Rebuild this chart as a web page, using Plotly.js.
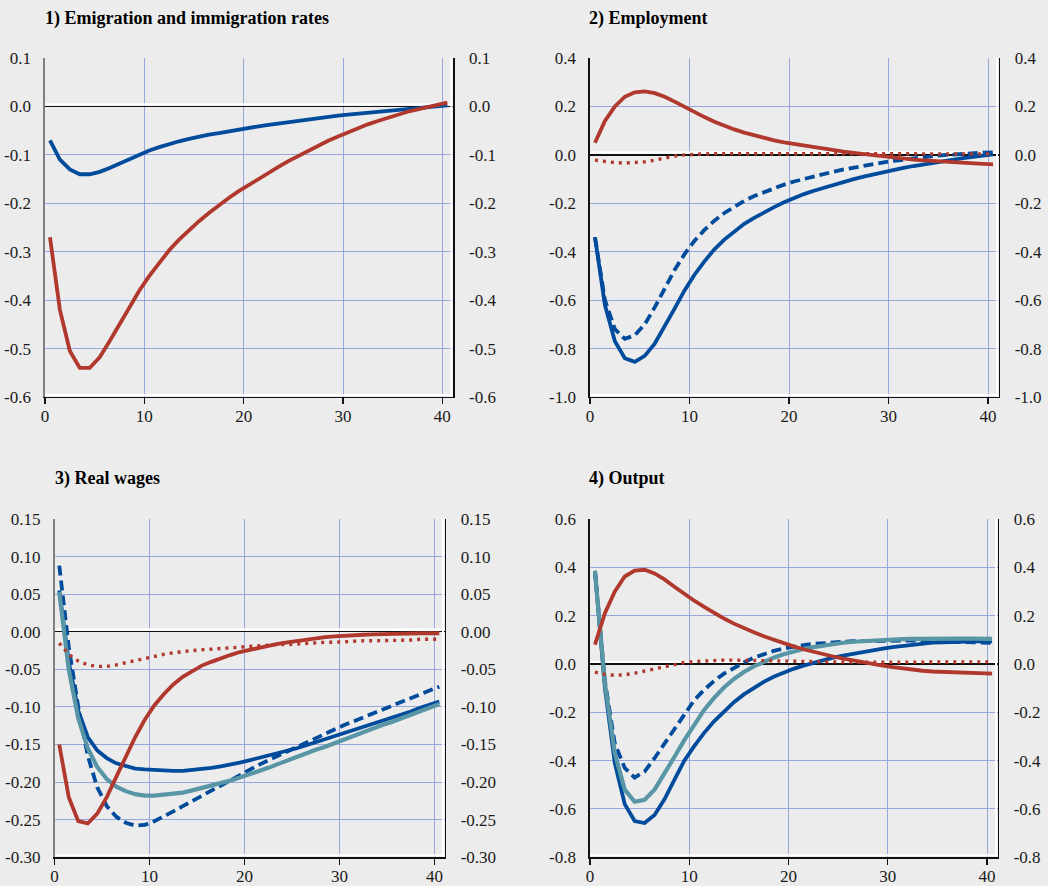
<!DOCTYPE html>
<html><head><meta charset="utf-8">
<script src="https://cdn.plot.ly/plotly-3.0.1.min.js"></script>
<style>html,body{margin:0;padding:0;background:#ececec;}</style>
</head><body><div id="chart" style="width:1048px;height:886px;"></div>
<script>
// ---------- data ----------
const periods = [0.5,1.5,2.5,3.5,4.5,5.5,6.5,7.5,8.5,9.5,10.5,11.5,12.5,13.5,14.5,15.5,16.5,17.5,18.5,19.5,20.5,21.5,22.5,23.5,24.5,25.5,26.5,27.5,28.5,29.5,30.5,31.5,32.5,33.5,34.5,35.5,36.5,37.5,38.5,39.5,40.5];

const panelTitles = ["1) Emigration and immigration rates", "2) Employment", "3) Real wages", "4) Output"];

// Panel 1: emigration / immigration rates
const p1Blue = [-0.07,-0.11,-0.13,-0.14,-0.14,-0.135,-0.127,-0.118,-0.108,-0.099,-0.091,-0.084,-0.077,-0.072,-0.067,-0.062,-0.058,-0.055,-0.051,-0.047,-0.044,-0.041,-0.038,-0.035,-0.032,-0.029,-0.027,-0.024,-0.022,-0.019,-0.017,-0.015,-0.013,-0.011,-0.009,-0.007,-0.005,-0.003,-0.002,0.0,0.002];
const p1Red = [-0.27,-0.42,-0.505,-0.54,-0.54,-0.518,-0.485,-0.45,-0.415,-0.38,-0.35,-0.322,-0.297,-0.275,-0.255,-0.237,-0.22,-0.204,-0.189,-0.175,-0.162,-0.149,-0.137,-0.125,-0.113,-0.102,-0.091,-0.081,-0.071,-0.062,-0.053,-0.045,-0.037,-0.030,-0.023,-0.017,-0.011,-0.006,-0.001,0.004,0.008];

// Panel 2: employment
const p2BlueSolid = [-0.34,-0.62,-0.77,-0.84,-0.855,-0.83,-0.78,-0.71,-0.635,-0.56,-0.495,-0.44,-0.39,-0.35,-0.315,-0.285,-0.26,-0.237,-0.216,-0.196,-0.178,-0.162,-0.148,-0.135,-0.123,-0.111,-0.1,-0.09,-0.08,-0.071,-0.062,-0.054,-0.046,-0.039,-0.032,-0.025,-0.019,-0.013,-0.008,-0.003,0.002];
const p2BlueDash = [-0.34,-0.6,-0.72,-0.76,-0.745,-0.7,-0.63,-0.55,-0.475,-0.41,-0.355,-0.31,-0.272,-0.24,-0.213,-0.19,-0.17,-0.153,-0.137,-0.123,-0.11,-0.099,-0.088,-0.078,-0.069,-0.06,-0.052,-0.045,-0.038,-0.031,-0.025,-0.019,-0.014,-0.009,-0.005,-0.001,0.002,0.005,0.007,0.009,0.01];
const p2RedSolid = [0.05,0.14,0.2,0.24,0.258,0.262,0.255,0.24,0.22,0.198,0.176,0.156,0.137,0.12,0.105,0.092,0.08,0.07,0.06,0.052,0.045,0.038,0.031,0.025,0.019,0.013,0.008,0.003,-0.002,-0.007,-0.011,-0.016,-0.020,-0.023,-0.026,-0.029,-0.031,-0.033,-0.035,-0.037,-0.039];
const p2RedDot = [-0.022,-0.028,-0.032,-0.034,-0.033,-0.029,-0.022,-0.013,-0.005,0.0,0.003,0.004,0.005,0.005,0.005,0.005,0.005,0.005,0.005,0.005,0.005,0.005,0.005,0.005,0.005,0.005,0.005,0.004,0.004,0.004,0.004,0.004,0.004,0.004,0.004,0.004,0.004,0.004,0.004,0.004,0.004];

// Panel 3: real wages
const p3BlueSolid = [0.055,-0.04,-0.105,-0.14,-0.158,-0.168,-0.175,-0.179,-0.182,-0.183,-0.184,-0.185,-0.185,-0.185,-0.184,-0.183,-0.181,-0.179,-0.177,-0.174,-0.171,-0.168,-0.165,-0.162,-0.158,-0.155,-0.151,-0.147,-0.143,-0.139,-0.135,-0.131,-0.127,-0.122,-0.118,-0.114,-0.110,-0.106,-0.101,-0.097,-0.093];
const p3BlueDash = [0.088,-0.02,-0.1,-0.165,-0.207,-0.232,-0.246,-0.254,-0.258,-0.257,-0.252,-0.246,-0.239,-0.232,-0.225,-0.218,-0.211,-0.204,-0.197,-0.19,-0.184,-0.177,-0.171,-0.165,-0.159,-0.153,-0.147,-0.141,-0.135,-0.129,-0.124,-0.119,-0.114,-0.109,-0.104,-0.099,-0.094,-0.089,-0.084,-0.079,-0.073];
const p3Teal = [0.053,-0.05,-0.115,-0.155,-0.18,-0.196,-0.206,-0.212,-0.216,-0.218,-0.218,-0.217,-0.216,-0.214,-0.211,-0.208,-0.205,-0.202,-0.198,-0.194,-0.190,-0.185,-0.181,-0.176,-0.171,-0.167,-0.162,-0.157,-0.153,-0.148,-0.143,-0.139,-0.134,-0.129,-0.124,-0.120,-0.115,-0.110,-0.105,-0.101,-0.096];
const p3RedSolid = [-0.15,-0.22,-0.252,-0.255,-0.242,-0.22,-0.193,-0.166,-0.14,-0.117,-0.098,-0.083,-0.07,-0.06,-0.052,-0.045,-0.04,-0.035,-0.031,-0.027,-0.024,-0.021,-0.018,-0.016,-0.014,-0.012,-0.01,-0.0085,-0.007,-0.006,-0.005,-0.0045,-0.004,-0.0035,-0.003,-0.003,-0.0025,-0.0025,-0.002,-0.002,-0.002];
const p3RedDot = [-0.015,-0.03,-0.039,-0.044,-0.046,-0.046,-0.044,-0.041,-0.038,-0.035,-0.032,-0.030,-0.028,-0.026,-0.025,-0.024,-0.023,-0.022,-0.021,-0.020,-0.019,-0.018,-0.018,-0.017,-0.017,-0.016,-0.015,-0.015,-0.014,-0.014,-0.013,-0.013,-0.012,-0.012,-0.012,-0.011,-0.011,-0.011,-0.010,-0.010,-0.010];

// Panel 4: output
const p4BlueSolid = [0.385,-0.1,-0.41,-0.58,-0.65,-0.658,-0.625,-0.56,-0.48,-0.4,-0.34,-0.285,-0.237,-0.195,-0.158,-0.126,-0.098,-0.074,-0.053,-0.035,-0.02,-0.007,0.005,0.016,0.026,0.035,0.043,0.051,0.058,0.064,0.07,0.075,0.08,0.084,0.088,0.09,0.092,0.093,0.094,0.094,0.094];
const p4BlueDash = [0.385,-0.07,-0.33,-0.43,-0.47,-0.445,-0.39,-0.33,-0.265,-0.205,-0.15,-0.107,-0.07,-0.04,-0.015,0.006,0.026,0.042,0.054,0.064,0.072,0.078,0.083,0.087,0.09,0.092,0.094,0.095,0.096,0.097,0.097,0.097,0.097,0.096,0.095,0.094,0.093,0.091,0.09,0.088,0.087];
const p4Teal = [0.385,-0.08,-0.37,-0.52,-0.57,-0.562,-0.52,-0.455,-0.385,-0.315,-0.25,-0.19,-0.14,-0.097,-0.062,-0.033,-0.01,0.01,0.026,0.04,0.052,0.062,0.07,0.077,0.083,0.088,0.092,0.095,0.098,0.1,0.102,0.103,0.104,0.105,0.105,0.105,0.105,0.105,0.105,0.104,0.104];
const p4RedSolid = [0.08,0.21,0.3,0.362,0.386,0.39,0.375,0.35,0.32,0.29,0.262,0.236,0.211,0.188,0.167,0.148,0.131,0.115,0.1,0.086,0.073,0.061,0.05,0.04,0.031,0.022,0.014,0.007,0.0,-0.007,-0.013,-0.019,-0.024,-0.028,-0.031,-0.033,-0.035,-0.037,-0.038,-0.039,-0.04];
const p4RedDot = [-0.034,-0.043,-0.047,-0.045,-0.038,-0.029,-0.019,-0.009,0.0,0.006,0.01,0.013,0.015,0.016,0.016,0.016,0.015,0.014,0.013,0.012,0.011,0.01,0.009,0.009,0.008,0.008,0.007,0.007,0.007,0.007,0.007,0.007,0.007,0.007,0.008,0.008,0.008,0.008,0.009,0.009,0.009];

// tick values / labels
const xTickVals = [0,10,20,30,40];
const xTickText = ["0","10","20","30","40"];
const p1TickVals = [-0.6,-0.5,-0.4,-0.3,-0.2,-0.1,0,0.1];
const p1TickText = ["-0.6","-0.5","-0.4","-0.3","-0.2","-0.1","0.0","0.1"];
const p2TickVals = [-1.0,-0.8,-0.6,-0.4,-0.2,0,0.2,0.4];
const p2TickText = ["-1.0","-0.8","-0.6","-0.4","-0.2","0.0","0.2","0.4"];
const p3TickVals = [-0.30,-0.25,-0.20,-0.15,-0.10,-0.05,0,0.05,0.10,0.15];
const p3TickText = ["-0.30","-0.25","-0.20","-0.15","-0.10","-0.05","0.00","0.05","0.10","0.15"];
const p4TickVals = [-0.8,-0.6,-0.4,-0.2,0,0.2,0.4,0.6];
const p4TickText = ["-0.8","-0.6","-0.4","-0.2","0.0","0.2","0.4","0.6"];

// ---------- styling ----------
const RED = 'rgb(176,56,45)';
const BLUE = 'rgb(0,75,155)';
const TEAL = 'rgb(88,150,166)';
const GRID = 'rgb(152,166,222)';
const BG = '#ececec';
const FONT = '"Liberation Serif", "Times New Roman", Times, serif';

const styles = {
  blueSolid: {color: BLUE, width: 3.8},
  blueDash: {color: BLUE, width: 3.8, dash: '10px,5px'},
  teal: {color: TEAL, width: 4.2},
  redSolid: {color: RED, width: 3.8},
  redDot: {color: RED, width: 3.4, dash: '3px,5px'}
};

function tr(y, style, n) {
  return {x: periods, y: y, type: 'scatter', mode: 'lines', line: styles[style],
    xaxis: 'x' + (n === 1 ? '' : n), yaxis: 'y' + (n === 1 ? '' : n),
    hoverinfo: 'skip', showlegend: false};
}

const traces = [
  tr(p1Blue, 'blueSolid', 1), tr(p1Red, 'redSolid', 1),
  tr(p2BlueSolid, 'blueSolid', 2), tr(p2BlueDash, 'blueDash', 2), tr(p2RedSolid, 'redSolid', 2), tr(p2RedDot, 'redDot', 2),
  tr(p3BlueSolid, 'blueSolid', 3), tr(p3BlueDash, 'blueDash', 3), tr(p3Teal, 'teal', 3), tr(p3RedSolid, 'redSolid', 3), tr(p3RedDot, 'redDot', 3),
  tr(p4BlueSolid, 'blueSolid', 4), tr(p4BlueDash, 'blueDash', 4), tr(p4Teal, 'teal', 4), tr(p4RedSolid, 'redSolid', 4), tr(p4RedDot, 'redDot', 4)
];
// empty traces to anchor the right-hand axes
for (let i = 5; i <= 8; i++) {
  traces.push({x: [], y: [], type: 'scatter', mode: 'lines', xaxis: 'x' + (i - 4 === 1 ? '' : i - 4), yaxis: 'y' + i, hoverinfo: 'skip', showlegend: false});
}

const W = 1048, H = 886;
const panels = [
  {xd: [45/W, 453.3/W], yd: [1-397/H, 1-58/H], yr: [-0.6, 0.1], tv: p1TickVals, tt: p1TickText, leftLine: '#808080', tx: 43/W, ty: 1-18/H},
  {xd: [590/W, 999/W], yd: [1-397/H, 1-58/H], yr: [-1.0, 0.4], tv: p2TickVals, tt: p2TickText, leftLine: '#111', tx: 586.5/W, ty: 1-18/H},
  {xd: [54.5/W, 445/W], yd: [1-857.3/H, 1-519/H], yr: [-0.30, 0.15], tv: p3TickVals, tt: p3TickText, leftLine: '#808080', tx: 53/W, ty: 1-479/H},
  {xd: [590/W, 998/W], yd: [1-857.3/H, 1-519/H], yr: [-0.8, 0.6], tv: p4TickVals, tt: p4TickText, leftLine: '#111', tx: 586.5/W, ty: 1-479/H}
];
const XR = [0, 41.1];

const layout = {
  width: W, height: H, margin: {l: 0, r: 0, t: 0, b: 0},
  paper_bgcolor: BG, plot_bgcolor: BG,
  font: {family: FONT, size: 17, color: '#1a1a1a'},
  showlegend: false, annotations: [], shapes: []
};

panels.forEach((p, i) => {
  const n = i + 1;
  const sx = n === 1 ? '' : String(n);
  const xa = 'x' + sx, ya = 'y' + sx;
  layout['xaxis' + sx] = {
    domain: p.xd, anchor: ya, range: XR, tickmode: 'array', tickvals: xTickVals, ticktext: xTickText,
    showgrid: true, gridcolor: GRID, gridwidth: 1, zeroline: false,
    showline: true, linecolor: '#111', linewidth: 1.3,
    ticks: 'outside', ticklen: 6, tickcolor: '#111', tickwidth: 1.3, ticklabelstandoff: -3,
    tickfont: {family: FONT, size: 17, color: '#1a1a1a'}, fixedrange: true
  };
  layout['yaxis' + sx] = {
    domain: p.yd, anchor: xa, range: p.yr, tickmode: 'array', tickvals: p.tv, ticktext: p.tt,
    showgrid: true, gridcolor: GRID, gridwidth: 1,
    zeroline: true, zerolinecolor: '#111', zerolinewidth: 1.3,
    showline: true, linecolor: p.leftLine, linewidth: 1.6,
    ticks: 'outside', ticklen: 9, tickcolor: 'rgba(0,0,0,0)',
    tickfont: {family: FONT, size: 17, color: '#1a1a1a'}, fixedrange: true
  };
  layout['yaxis' + (n + 4)] = {
    overlaying: ya, side: 'right', anchor: xa, range: p.yr, tickmode: 'array', tickvals: p.tv, ticktext: p.tt,
    showgrid: false, zeroline: false, showline: true, linecolor: '#111', linewidth: 1.3,
    ticks: 'outside', ticklen: 11, tickcolor: 'rgba(0,0,0,0)',
    tickfont: {family: FONT, size: 17, color: '#1a1a1a'}, fixedrange: true
  };
  layout.annotations.push({
    text: '<b>' + panelTitles[i] + '</b>', xref: 'paper', yref: 'paper', x: p.tx, y: p.ty,
    xanchor: 'left', yanchor: 'middle', showarrow: false, font: {family: FONT, size: 18, color: '#000'}
  });
  // white highlight above the zero line
  layout.shapes.push({type: 'line', xref: xa, yref: ya, x0: XR[0], x1: XR[1], ysizemode: 'pixel', yanchor: 0, y0: 2.2, y1: 2.2,
    line: {color: '#ffffff', width: 2.2}, layer: 'between'});
  // white highlight above the bottom axis
  layout.shapes.push({type: 'line', xref: xa, yref: ya, x0: XR[0], x1: XR[1], ysizemode: 'pixel', yanchor: p.yr[0], y0: 2, y1: 2,
    line: {color: '#ffffff', width: 2}, layer: 'between'});
  // white highlight left of the right axis
  layout.shapes.push({type: 'line', xref: xa, yref: ya, xsizemode: 'pixel', xanchor: XR[1], x0: -2, x1: -2, y0: p.yr[0], y1: p.yr[1],
    line: {color: '#ffffff', width: 2}, layer: 'between'});
});

Plotly.newPlot('chart', traces, layout, {displayModeBar: false, staticPlot: true});
</script>
</body></html>
